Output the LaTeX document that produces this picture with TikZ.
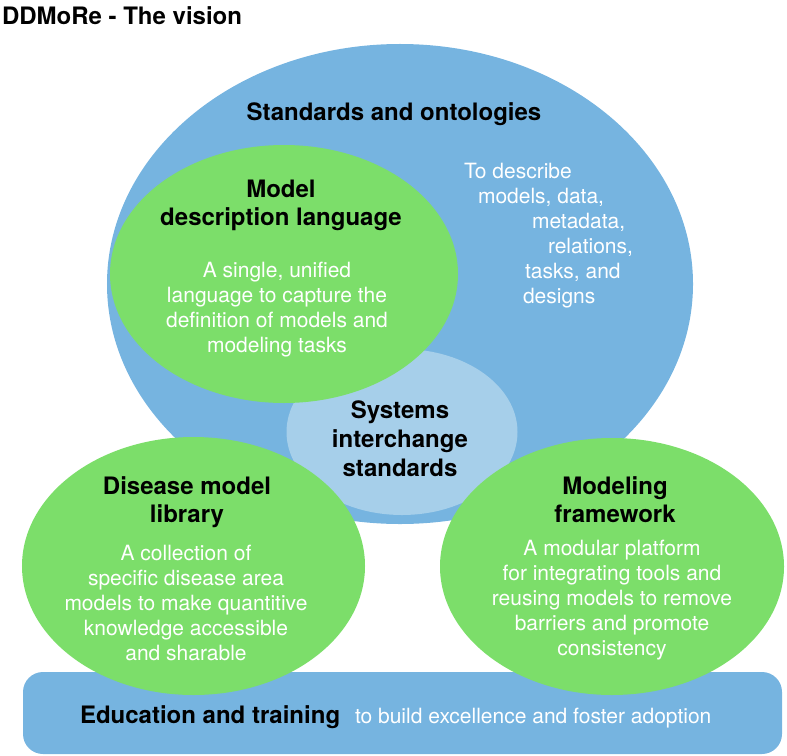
\documentclass[tikz,border=0pt]{standalone}
\usepackage{fontspec}
\setmainfont{TeX Gyre Heros}
\definecolor{bigblue}{HTML}{76B4E0}
\definecolor{lightblue}{HTML}{A6CFEA}
\definecolor{leafgreen}{HTML}{7CDE6A}
\newcommand{\mkcentre}[1]{\vtop{\halign{\hfil##\hfil\cr#1\crcr}}}
\newcommand{\mkleft}[1]{\vtop{\halign{##\hfil\cr#1\crcr}}}
\tikzset{
  head/.style={font=\bfseries\fontsize{24bp}{28bp}\selectfont, text=black, inner sep=0pt, outer sep=0pt, anchor=base},
  headwide/.style={head, font=\bfseries\fontsize{24bp}{29bp}\selectfont},
  body/.style={font=\fontsize{21bp}{25bp}\selectfont, text=white, inner sep=0pt, outer sep=0pt, anchor=base},
}
\begin{document}
\begin{tikzpicture}[x=1bp,y=-1bp]
\useasboundingbox (0,0) rectangle (787,756);
% shapes
\fill[bigblue] (400,284) ellipse [x radius=293bp, y radius=240bp];
\fill[lightblue] (402,432) ellipse [x radius=115.5bp, y radius=83bp];
\fill[leafgreen] (284,274) ellipse [x radius=174bp, y radius=129bp];
\fill[bigblue, rounded corners=20bp] (23,672) rectangle (782,754);
\fill[leafgreen] (193.5,566) ellipse [x radius=171.5bp, y radius=129bp];
\fill[leafgreen] (612,566.5) ellipse [x radius=172bp, y radius=128.5bp];
% texts
\node[head, anchor=base west] (title) at (2,25) {DDMoRe - The vision};
\node[head] (std) at (394,120.7) {Standards and ontologies};
\node[body, anchor=base west] (stdtxt) at (464,178) {\mkleft{To describe\cr
\hskip14bp models, data,\cr
\hskip68bp metadata,\cr
\hskip84bp relations,\cr
\hskip61bp tasks, and\cr
\hskip59bp designs}};
\node[head] (mdl) at (281,197.3) {\mkcentre{Model\cr description language}};
\node[body] (mdltxt) at (277,277) {\mkcentre{A single, unified\cr language to capture the\cr definition of models and\cr modeling tasks}};
\node[headwide] (sys) at (400,418.5) {\mkcentre{Systems\cr interchange\cr standards}};
\node[head] (dml) at (187,494) {\mkcentre{Disease model\cr library}};
\node[body] (dmltxt) at (186,560) {\mkcentre{A collection of\cr specific disease area\cr models to make quantitive\cr knowledge accessible\cr and sharable}};
\node[head] (mf) at (615,494.5) {\mkcentre{Modeling\cr framework}};
\node[body] (mftxt) at (612,555) {\mkcentre{A modular platform\cr for integrating tools and\cr reusing models to remove\cr barriers and promote\cr consistency}};
\node[head, anchor=base west] (edu) at (80,723) {Education and training};
\node[body, anchor=base west] (edutxt) at (355,723) {to build excellence and foster adoption};
\end{tikzpicture}
\end{document}
